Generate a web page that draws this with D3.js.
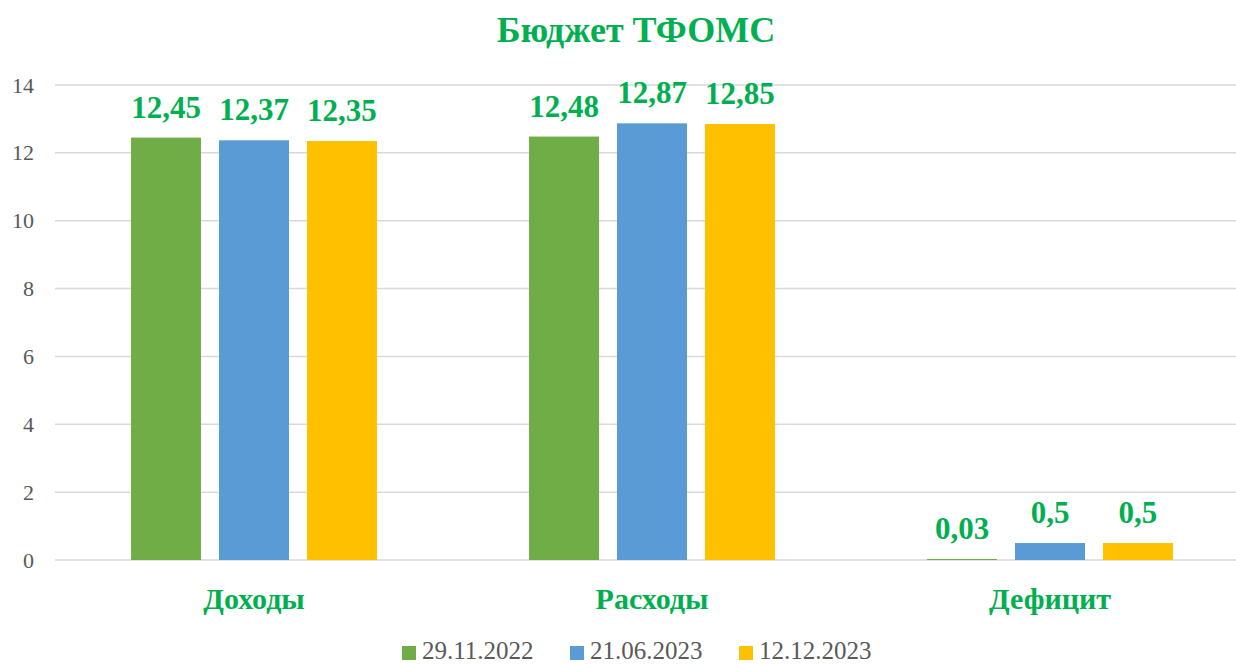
<!DOCTYPE html>
<html>
<head>
<meta charset="utf-8">
<script src="https://cdn.jsdelivr.net/npm/d3@7"></script>
<style>
  body { margin: 0; background: #fff; }
  svg { display: block; }
  svg text { font-family: 'Liberation Serif', 'Times New Roman', Times, 'DejaVu Serif', serif !important; }
</style>
</head>
<body>
<div id="chart"></div>
<script>
// data
var categories = ['Доходы', 'Расходы', 'Дефицит']
var seriesNames = ['29.11.2022', '21.06.2023', '12.12.2023']
var seriesColors = ['#70AD47', '#5B9BD5', '#FFC000']
var values2022 = [12.45, 12.48, 0.03]
var values2023jun = [12.37, 12.87, 0.5]
var values2023dec = [12.35, 12.85, 0.5]
var yTicks = [0, 2, 4, 6, 8, 10, 12, 14]

var allSeries = [values2022, values2023jun, values2023dec]

var width = 1236
var height = 665
var margin = { top: 85, left: 55, bottom: 105 }
var green = '#00B050'

var svg = d3.select('#chart')
  .append('svg')
  .attr('width', width)
  .attr('height', height)

// scales
var yPositionScale = d3.scaleLinear()
  .domain([0, 14])
  .range([height - margin.bottom, margin.top])

var xPositionScale = d3.scaleBand()
  .domain(categories)
  .range([margin.left, margin.left + 398 * 3])

var xInner = d3.scaleBand()
  .domain(seriesNames)
  .range([0, xPositionScale.bandwidth()])
  .paddingInner(0.2045)
  .paddingOuter(0.864)

// gridlines
svg.append('g')
  .selectAll('line')
  .data(yTicks)
  .enter()
  .append('line')
  .attr('x1', margin.left)
  .attr('x2', width)
  .attr('y1', d => yPositionScale(d))
  .attr('y2', d => yPositionScale(d))
  .attr('stroke', '#D9D9D9')
  .attr('stroke-width', 1.5)

// y axis labels
var yAxis = d3.axisLeft(yPositionScale).tickValues(yTicks).tickSize(0).tickPadding(21)
var yG = svg.append('g')
  .attr('transform', `translate(${margin.left},0)`)
  .call(yAxis)
yG.select('.domain').remove()
yG.selectAll('text')
  .attr('font-size', 22)
  .attr('fill', '#595959')

// bars
var groups = svg.selectAll('.cat')
  .data(categories)
  .enter()
  .append('g')
  .attr('class', 'cat')
  .attr('transform', d => `translate(${xPositionScale(d)},0)`)

groups.each(function(cat, ci) {
  var g = d3.select(this)
  seriesNames.forEach(function(name, si) {
    var v = allSeries[si][ci]
    g.append('rect')
      .attr('x', xInner(name))
      .attr('width', xInner.bandwidth())
      .attr('y', yPositionScale(v))
      .attr('height', yPositionScale(0) - yPositionScale(v))
      .attr('fill', seriesColors[si])

    g.append('text')
      .attr('x', xInner(name) + xInner.bandwidth() / 2)
      .attr('y', yPositionScale(v) - 20)
      .attr('text-anchor', 'middle')
      .attr('font-size', 31)
      .attr('font-weight', 'bold')
      .attr('fill', green)
      .text(String(v).replace('.', ','))
  })
})

// category labels
svg.append('g')
  .selectAll('text')
  .data(categories)
  .enter()
  .append('text')
  .attr('x', d => xPositionScale(d) + xPositionScale.bandwidth() / 2)
  .attr('y', 609)
  .attr('text-anchor', 'middle')
  .attr('font-size', 30)
  .attr('font-weight', 'bold')
  .attr('fill', green)
  .text(d => d)

// title
svg.append('text')
  .attr('x', 636)
  .attr('y', 42)
  .attr('text-anchor', 'middle')
  .attr('font-size', 36)
  .attr('font-weight', 'bold')
  .attr('fill', green)
  .text('Бюджет ТФОМС')

// legend
var legendX = [402, 570, 739]
var legend = svg.append('g')
  .selectAll('g')
  .data(seriesNames)
  .enter()
  .append('g')
  .attr('transform', (d, i) => `translate(${legendX[i]},646)`)

legend.append('rect')
  .attr('width', 14)
  .attr('height', 14)
  .attr('fill', (d, i) => seriesColors[i])

legend.append('text')
  .attr('x', 20)
  .attr('y', 13)
  .attr('font-size', 25)
  .attr('fill', '#595959')
  .text(d => d)
</script>
</body>
</html>
